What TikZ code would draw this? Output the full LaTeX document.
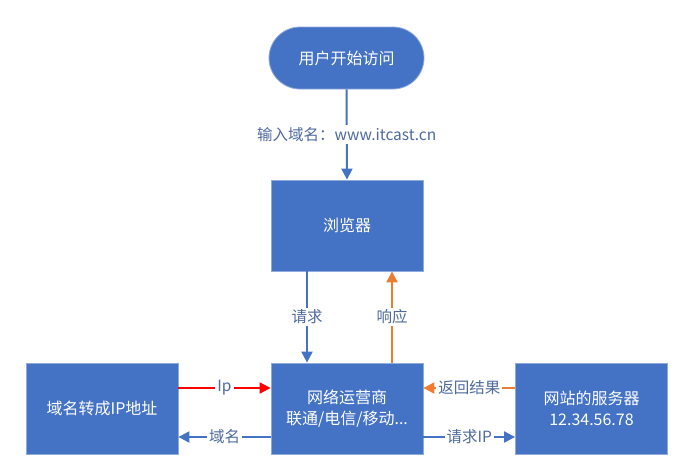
\documentclass[tikz,border=0pt]{standalone}
\usepackage{fontspec}
\newfontfamily\cjk{Noto Sans CJK SC}
\usetikzlibrary{arrows.meta}
\definecolor{boxblue}{HTML}{4472C4}
\definecolor{boxedge}{HTML}{8FAADC}
\definecolor{lineblue}{HTML}{4472C4}
\definecolor{lblcol}{HTML}{4E6A9E}
\definecolor{orangec}{HTML}{ED7D31}
\definecolor{redc}{HTML}{FF0000}
\tikzset{
  box/.style={draw=boxedge, line width=0.8pt, fill=boxblue, text=white, font=\cjk\fontsize{16}{21}\selectfont, minimum width=152pt, minimum height=91pt, inner sep=0pt, align=center},
  term/.style={draw=boxedge, line width=0.8pt, fill=boxblue, text=white, font=\cjk\fontsize{16}{21}\selectfont, minimum width=155pt, minimum height=62pt, rounded corners=31pt, inner sep=0pt},
  conn/.style={line width=2pt, -{Triangle[width=11pt,length=11pt]}},
  lbl/.style={fill=white, text=lblcol, font=\cjk\fontsize{15.5}{18}\selectfont, inner sep=2pt}
}
\begin{document}
\begin{tikzpicture}[x=1pt,y=-1pt]
\useasboundingbox (0,0) rectangle (697,467);
\node[term] (start) at (346.5,58) {用户开始访问};
\node[box] (browser) at (347,225.5) {浏览器};
\node[box] (isp) at (347,408.5) {网络运营商\\联通/电信/移动...};
\node[box] (dns) at (102,408.5) {域名转成IP地址};
\node[box] (srv) at (591.5,408.5) {网站的服务器\\12.34.56.78};

\draw[conn, lineblue] (start.south) -- node[lbl]{输入域名：www.itcast.cn} (browser.north);
\draw[conn, lineblue] ([xshift=-40pt]browser.south) -- node[lbl]{请求} ([xshift=-40pt]isp.north);
\draw[conn, orangec] ([xshift=45pt]isp.north) -- node[lbl]{响应} ([xshift=45pt]browser.south);
\draw[conn, redc] ([yshift=20.5pt]dns.east) -- node[lbl]{Ip} ([yshift=20.5pt]isp.west);
\draw[conn, lineblue] ([yshift=-28.5pt]isp.west) -- node[lbl]{域名} ([yshift=-28.5pt]dns.east);
\draw[conn, orangec] ([yshift=20.5pt]srv.west) -- node[lbl]{返回结果} ([yshift=20.5pt]isp.east);
\draw[conn, lineblue] ([yshift=-28.5pt]isp.east) -- node[lbl]{请求IP} ([yshift=-28.5pt]srv.west);
\end{tikzpicture}
\end{document}
